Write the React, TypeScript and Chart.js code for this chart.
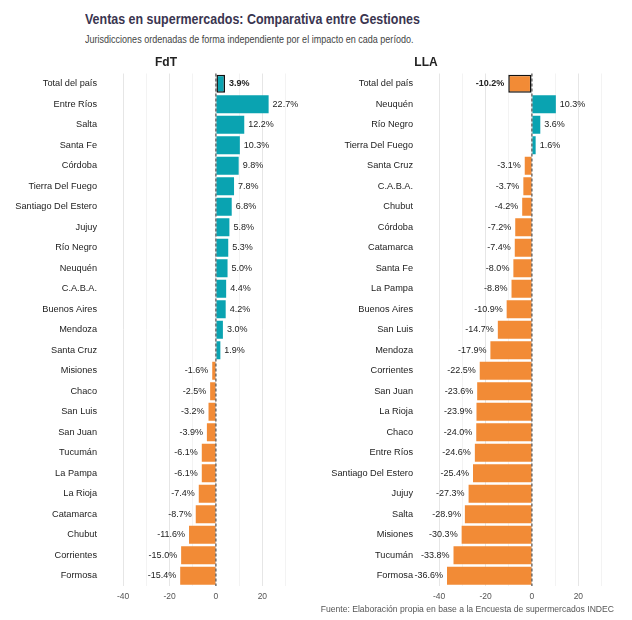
import React, { useEffect, useRef } from 'react';
import Chart from 'chart.js/auto';

// FdT period, sorted by impact
const fdtCategories = [
	'Total del país', 'Entre Ríos', 'Salta', 'Santa Fe', 'Córdoba', 'Tierra Del Fuego',
	'Santiago Del Estero', 'Jujuy', 'Río Negro', 'Neuquén', 'C.A.B.A.', 'Buenos Aires',
	'Mendoza', 'Santa Cruz', 'Misiones', 'Chaco', 'San Luis', 'San Juan', 'Tucumán',
	'La Pampa', 'La Rioja', 'Catamarca', 'Chubut', 'Corrientes', 'Formosa'
];
const fdtValues = [
	3.9, 22.7, 12.2, 10.3, 9.8, 7.8, 6.8, 5.8, 5.3, 5.0, 4.4, 4.2, 3.0, 1.9,
	-1.6, -2.5, -3.2, -3.9, -6.1, -6.1, -7.4, -8.7, -11.6, -15.0, -15.4
];

// LLA period, sorted by impact
const llaCategories = [
	'Total del país', 'Neuquén', 'Río Negro', 'Tierra Del Fuego', 'Santa Cruz', 'C.A.B.A.',
	'Chubut', 'Córdoba', 'Catamarca', 'Santa Fe', 'La Pampa', 'Buenos Aires', 'San Luis',
	'Mendoza', 'Corrientes', 'San Juan', 'La Rioja', 'Chaco', 'Entre Ríos',
	'Santiago Del Estero', 'Jujuy', 'Salta', 'Misiones', 'Tucumán', 'Formosa'
];
const llaValues = [
	-10.2, 10.3, 3.6, 1.6, -3.1, -3.7, -4.2, -7.2, -7.4, -8.0, -8.8, -10.9, -14.7,
	-17.9, -22.5, -23.6, -23.9, -24.0, -24.6, -25.4, -27.3, -28.9, -30.3, -33.8, -36.6
];

const xTickLabels = [-40, -20, 0, 20];

const TEAL = '#0aa3b1';
const ORANGE = '#f28b36';
const FONT = '"Liberation Sans", Arial, sans-serif';

const zeroLinePlugin = {
	id: 'zeroLine',
	afterDatasetsDraw(chart: any) {
		const { ctx, chartArea, scales } = chart;
		const x = scales.x.getPixelForValue(0);
		ctx.save();
		ctx.strokeStyle = '#333';
		ctx.lineWidth = 1;
		ctx.setLineDash([3, 2]);
		ctx.beginPath();
		ctx.moveTo(x, chartArea.top);
		ctx.lineTo(x, chartArea.bottom);
		ctx.stroke();
		ctx.restore();
	}
};

const valueLabelPlugin = {
	id: 'valueLabels',
	afterDatasetsDraw(chart: any) {
		const { ctx } = chart;
		const meta = chart.getDatasetMeta(0);
		const values = chart.data.datasets[0].data as number[];
		ctx.save();
		ctx.fillStyle = '#222';
		ctx.textBaseline = 'middle';
		meta.data.forEach((bar: any, i: number) => {
			const v = values[i];
			ctx.font = (i === 0 ? 'bold ' : '') + '9px ' + FONT;
			const text = v.toFixed(1) + '%';
			if (v >= 0) {
				ctx.textAlign = 'left';
				ctx.fillText(text, bar.x + 4, bar.y);
			} else {
				ctx.textAlign = 'right';
				ctx.fillText(text, bar.x - 4, bar.y);
			}
		});
		ctx.restore();
	}
};

interface PanelProps {
	categories: string[];
	values: number[];
	yWidth: number;
	padRight: number;
	width: number;
}

function Panel({ categories, values, yWidth, padRight, width }: PanelProps) {
	const chartRef = useRef<HTMLCanvasElement>(null);
	const chartInstance = useRef<Chart | null>(null);

	useEffect(() => {
		if (chartInstance.current) {
			chartInstance.current.destroy();
		}
		if (!chartRef.current) return;
		const ctx = chartRef.current.getContext('2d');
		if (!ctx) return;

		chartInstance.current = new Chart(ctx, {
			type: 'bar',
			data: {
				labels: categories,
				datasets: [
					{
						data: values,
						backgroundColor: values.map((v) => (v >= 0 ? TEAL : ORANGE)),
						borderColor: values.map((_, i) => (i === 0 ? '#111' : 'rgba(0,0,0,0)')),
						borderWidth: values.map((_, i) => (i === 0 ? 1.5 : 0)),
						borderSkipped: false,
						barPercentage: 0.88,
						categoryPercentage: 1
					}
				]
			},
			options: {
				indexAxis: 'y',
				responsive: false,
				animation: false,
				layout: { padding: { top: 2, right: padRight, left: 0, bottom: 0 } },
				plugins: {
					legend: { display: false },
					tooltip: { enabled: false }
				},
				scales: {
					x: {
						type: 'linear',
						min: -43.5,
						max: 34.5,
						border: { display: false },
						grid: {
							drawTicks: false,
							color: (c: any) => (c.tick && c.tick.value % 20 === 0 ? '#e6e6e6' : '#f3f3f3'),
							lineWidth: 1
						},
						ticks: {
							stepSize: 10,
							includeBounds: false,
							autoSkip: false,
							maxRotation: 0,
							padding: 6,
							color: '#555',
							font: { family: FONT, size: 8.5 },
							callback: (v: any) => (xTickLabels.includes(v) ? String(v) : '')
						},
						afterFit: (scale: any) => {
							scale.height = 29;
						}
					},
					y: {
						border: { display: false },
						grid: { display: false, drawTicks: false },
						ticks: {
							padding: 18,
							color: '#222',
							autoSkip: false,
							font: { family: FONT, size: 9.2 }
						},
						afterFit: (scale: any) => {
							scale.width = yWidth;
						}
					}
				}
			},
			plugins: [zeroLinePlugin, valueLabelPlugin]
		});

		return () => {
			if (chartInstance.current) {
				chartInstance.current.destroy();
			}
		};
	}, [categories, values]);

	return <canvas ref={chartRef} width={width} height={565} style={{ width: width + 'px', height: '565px', display: 'block' }}></canvas>;
}

export default function App() {
	return (
		<div style={{ position: 'fixed', left: 0, top: 0, width: '632px', height: '620px', background: '#fff', fontFamily: FONT }}>
			<div style={{ position: 'absolute', left: '0px', top: '50px' }}>
				<Panel categories={fdtCategories} values={fdtValues} yWidth={115} padRight={14} width={310} />
			</div>
			<div style={{ position: 'absolute', left: '310px', top: '50px' }}>
				<Panel categories={llaCategories} values={llaValues} yWidth={121} padRight={20} width={322} />
			</div>
			<div style={{ position: 'absolute', left: '85px', top: '10px', fontSize: '15px', fontWeight: 'bold', color: '#3a3550', whiteSpace: 'nowrap', transform: 'scaleX(0.83)', transformOrigin: 'left' }}>
				Ventas en supermercados: Comparativa entre Gestiones
			</div>
			<div style={{ position: 'absolute', left: '85px', top: '33px', fontSize: '11px', color: '#444', whiteSpace: 'nowrap', transform: 'scaleX(0.82)', transformOrigin: 'left' }}>
				Jurisdicciones ordenadas de forma independiente por el impacto en cada período.
			</div>
			<div style={{ position: 'absolute', left: '166px', top: '55px', fontSize: '12px', fontWeight: 'bold', color: '#222', transform: 'translateX(-50%)' }}>FdT</div>
			<div style={{ position: 'absolute', left: '426px', top: '55px', fontSize: '12px', fontWeight: 'bold', color: '#222', transform: 'translateX(-50%)' }}>LLA</div>
			<div style={{ position: 'absolute', right: '18px', top: '604px', fontSize: '8.6px', color: '#555', whiteSpace: 'nowrap' }}>
				Fuente: Elaboración propia en base a la Encuesta de supermercados INDEC
			</div>
		</div>
	);
}
